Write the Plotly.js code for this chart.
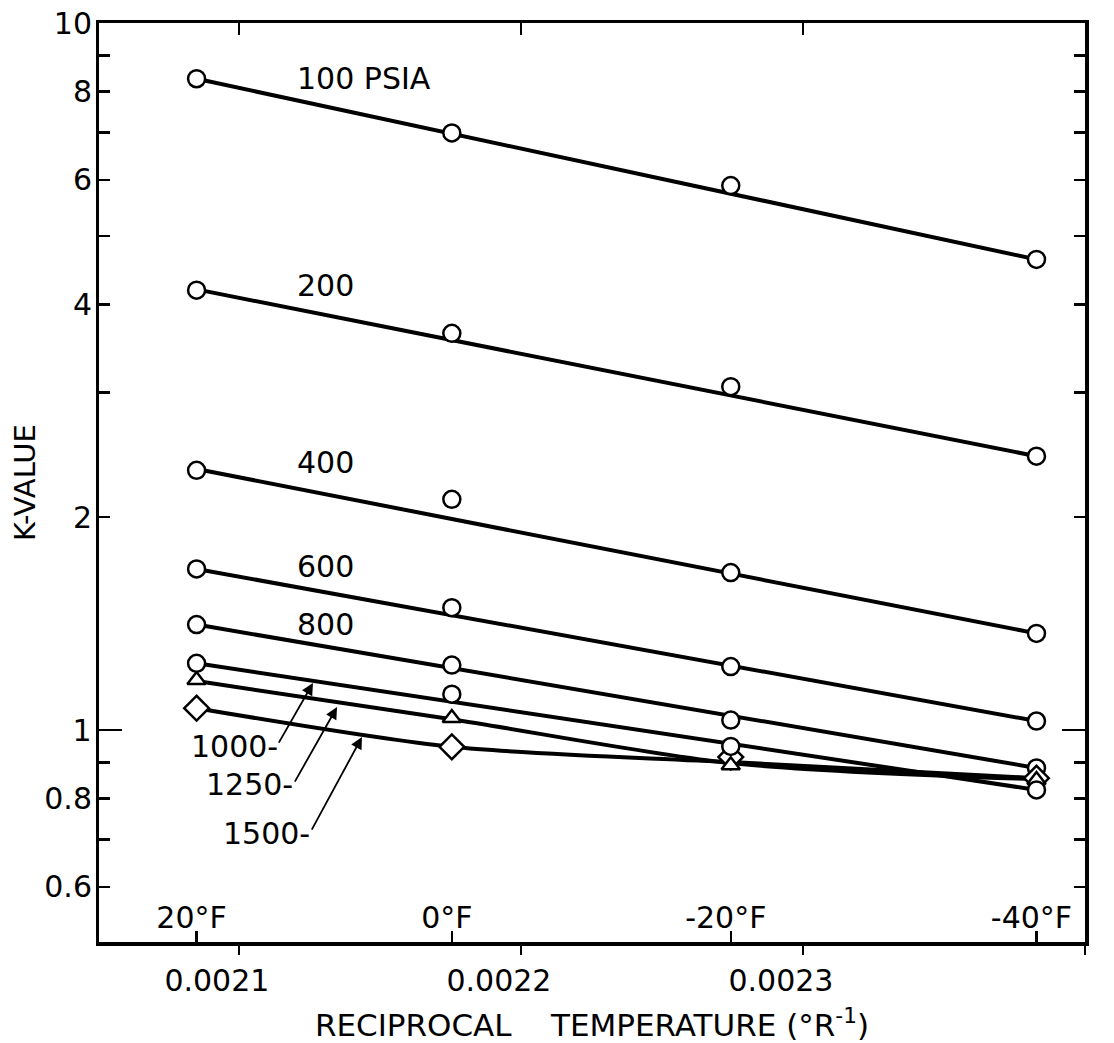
<!DOCTYPE html>
<html>
<head>
<meta charset="utf-8">
<script src="https://cdn.plot.ly/plotly-3.0.1.min.js"></script>
<style>html,body{margin:0;padding:0;background:#fff;}#chart{width:1114px;height:1043px;}</style>
</head>
<body>
<div id="chart"></div>
<script>
// Reciprocal temperatures (1/°R) of the four isotherms
const recipTemp = [0.002085, 0.0021755, 0.0022744, 0.0023828];
const tempLabels = ['20°F', '0°F', '-20°F', '-40°F'];
const xTickVals = [0.0021, 0.0022, 0.0023, 0.0024];
const xTickText = ['0.0021', '0.0022', '0.0023', '0.0024'];
const yLabelVals = [0.6, 0.8, 2, 4, 6, 8, 10];
const yLabelText = ['0.6', '0.8', '2', '4', '6', '8', '10'];
const yShortTicks = [0.6, 0.7, 0.8, 0.9, 2, 3, 4, 5, 6, 7, 8, 9, 10];
const yLongTick = [1];
const yLongTickText = ['1'];

// Measured K-values (points)
const k100 = [8.34, 6.99, 5.89, 4.63];
const k200 = [4.19, 3.64, 3.06, 2.44];
const k400 = [2.33, 2.12, 1.67, 1.37];
const k600 = [1.69, 1.49, 1.23, 1.03];
const k800 = [1.41, 1.236, 1.033, 0.884];
const k1000 = [1.243, 1.124, 0.948, 0.823];
const k1250 = [1.177, 1.040, 0.892, 0.850];
const k1500 = [1.074, 0.947, 0.916, 0.855];

// Drawn correlation lines
const fitEndX = [recipTemp[0], recipTemp[3]];
const fit100 = [8.34, 4.63];
const fit200 = [4.20, 2.44];
const fit400 = [2.34, 1.37];
const fit600 = [1.69, 1.03];
const fit800 = [1.41, 0.884];
const fit1000 = [1.243, 0.823];
const fit1250 = [1.173, 1.036, 0.898, 0.852];
const fit1500 = [1.074, 0.947, 0.901, 0.855];

const FONT = 'DejaVu Sans, sans-serif';
const lineStyle = {color: '#000', width: 4};
function fitTrace(x, y, spline) {
  return {x: x, y: y, mode: 'lines', type: 'scatter', showlegend: false, hoverinfo: 'skip',
    line: Object.assign({}, lineStyle, spline ? {shape: 'spline', smoothing: 0.8} : {})};
}
function ptTrace(y, symbol, size) {
  return {x: recipTemp, y: y, mode: 'markers', type: 'scatter', showlegend: false,
    marker: {symbol: symbol, size: size, color: '#fff', line: {color: '#000', width: 2.5}}};
}

const traces = [
  fitTrace(fitEndX, fit100), fitTrace(fitEndX, fit200), fitTrace(fitEndX, fit400),
  fitTrace(fitEndX, fit600), fitTrace(fitEndX, fit800), fitTrace(fitEndX, fit1000),
  fitTrace(recipTemp, fit1250, true), fitTrace(recipTemp, fit1500, true),
  ptTrace(k100, 'circle', 17), ptTrace(k200, 'circle', 17), ptTrace(k400, 'circle', 17),
  ptTrace(k600, 'circle', 17), ptTrace(k800, 'circle', 17),
  ptTrace(k1500, 'diamond', 19), ptTrace(k1250, 'triangle-up', 16), ptTrace(k1000, 'circle', 17)
];

const xRange = [0.0020504, 0.0024];
const yRange = [-0.2997, 1.0];

function label(text, px, py, anchor) {
  return {text: text, xref: 'paper', yref: 'paper', x: px, y: py, xanchor: anchor || 'left', yanchor: 'middle',
    showarrow: false, font: {family: FONT, size: 30, color: '#000'}};
}
function leader(px, py, ax, ay) {
  return {text: '', xref: 'paper', yref: 'paper', x: px, y: py, ax: ax, ay: ay, showarrow: true,
    arrowhead: 2, arrowsize: 1.3, arrowwidth: 1.8, arrowcolor: '#000'};
}

const layout = {
  width: 1114, height: 1043,
  margin: {l: 99, r: 29, t: 23, b: 101},
  paper_bgcolor: '#fff', plot_bgcolor: '#fff',
  font: {family: FONT, color: '#000', size: 30},
  xaxis: {
    type: 'linear', range: xRange, tickmode: 'array', tickvals: xTickVals, ticktext: xTickText,
    ticks: 'outside', ticklen: 9, tickwidth: 2.5, tickcolor: '#000',
    showline: true, linewidth: 3.5, linecolor: '#000', mirror: true,
    showgrid: false, zeroline: false, ticklabelshift: -22,
    tickfont: {family: FONT, size: 30, color: '#000'},
    title: {text: 'RECIPROCAL&nbsp;&nbsp;&nbsp;&nbsp;TEMPERATURE (°R<sup>-1</sup>)', font: {family: FONT, size: 31, color: '#000'}, standoff: 36}
  },
  xaxis2: {
    overlaying: 'x', anchor: 'y', side: 'bottom', range: xRange, tickmode: 'array',
    tickvals: recipTemp, ticktext: tempLabels, ticks: 'inside', ticklen: 11, tickwidth: 2.5, tickcolor: '#000',
    ticklabelposition: 'inside', ticklabelshift: -5, showline: false, showgrid: false, zeroline: false,
    tickfont: {family: FONT, size: 30, color: '#000'}
  },
  xaxis3: {
    overlaying: 'x', anchor: 'y', side: 'top', range: xRange, tickmode: 'array', tickvals: xTickVals,
    ticks: 'inside', ticklen: 12, tickwidth: 2.5, tickcolor: '#000', showticklabels: false,
    showline: false, showgrid: false, zeroline: false
  },
  yaxis: {
    type: 'log', range: yRange, tickmode: 'array', tickvals: yLongTick, ticktext: yLongTickText,
    ticks: 'inside', ticklen: 23, tickwidth: 2.5, tickcolor: '#000',
    minor: {tickmode: 'array', tickvals: yShortTicks, ticks: 'inside', ticklen: 11, tickwidth: 2.5, tickcolor: '#000', showgrid: false},
    showline: true, linewidth: 3.5, linecolor: '#000', mirror: 'ticks',
    showgrid: false, zeroline: false, ticklabelstandoff: -2,
    tickfont: {family: FONT, size: 30, color: '#000'}
  },
  yaxis2: {
    overlaying: 'y', side: 'left', type: 'log', range: yRange, tickmode: 'array', tickvals: yLabelVals, ticktext: yLabelText,
    ticks: '', showline: false, showgrid: false, zeroline: false, ticklabelstandoff: 6,
    tickfont: {family: FONT, size: 30, color: '#000'},
    title: {text: 'K-VALUE', font: {family: FONT, size: 29, color: '#000'}, standoff: 0}
  },
  annotations: [
    label('100 PSIA', 0.1988, 0.9398), label('200', 0.1988, 0.7141), label('400', 0.1988, 0.5221),
    label('600', 0.1988, 0.4085), label('800', 0.1988, 0.3454),
    label('1000-', 0.1836, 0.2132, 'right'), label('1250-', 0.1988, 0.1719, 'right'), label('1500-', 0.216, 0.1186, 'right'),
    leader(0.2170, 0.2817, -35, 61), leader(0.2414, 0.2556, -43, 76), leader(0.2667, 0.2230, -51, 94)
  ]
};

// invisible traces that attach the extra axes
traces.push({x: [recipTemp[0]], y: [1], xaxis: 'x', yaxis: 'y2', mode: 'markers', marker: {opacity: 0}, showlegend: false, hoverinfo: 'skip'});
traces.push({x: [recipTemp[0]], y: [1], xaxis: 'x2', yaxis: 'y', mode: 'markers', marker: {opacity: 0}, showlegend: false, hoverinfo: 'skip'});
traces.push({x: [recipTemp[0]], y: [1], xaxis: 'x3', yaxis: 'y', mode: 'markers', marker: {opacity: 0}, showlegend: false, hoverinfo: 'skip'});

Plotly.newPlot('chart', traces, layout, {staticPlot: true});
</script>
</body>
</html>
